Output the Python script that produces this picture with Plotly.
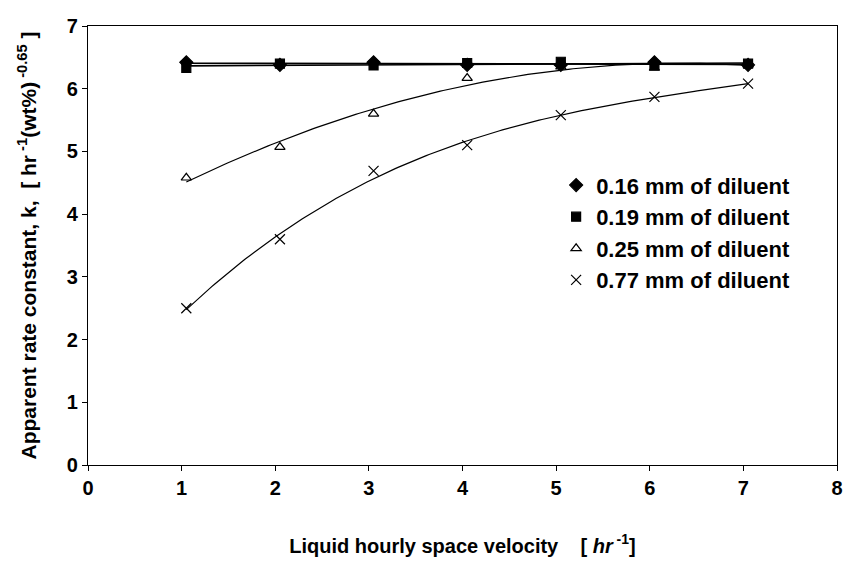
import numpy as np
import plotly.graph_objects as go

lhsv = [1.05, 2.05, 3.05, 4.05, 5.05, 6.05, 7.05]
k_016 = [6.42, 6.38, 6.42, 6.38, 6.38, 6.42, 6.38]
k_019 = [6.33, 6.40, 6.37, 6.41, 6.43, 6.37, 6.40]
k_025 = [4.58, 5.07, 5.60, 6.17, 6.35, 6.33, 6.38]
k_077 = [2.50, 3.60, 4.69, 5.10, 5.58, 5.87, 6.08]

series = [
    ("0.16 mm of diluent", k_016, "diamond", 10, 1),
    ("0.19 mm of diluent", k_019, "square", 9, 1),
    ("0.25 mm of diluent", k_025, "triangle-up-open", 9, 2),
    ("0.77 mm of diluent", k_077, "x-thin-open", 10, 3),
]

FONT = "Liberation Sans, Arial, sans-serif"
fig = go.Figure()

xs = np.linspace(min(lhsv), max(lhsv), 200)
for name, ys, sym, size, deg in series:
    coef = np.polyfit(lhsv, ys, deg)
    fig.add_trace(go.Scatter(x=xs, y=np.polyval(coef, xs), mode="lines",
                             line=dict(color="black", width=1.6 if deg == 1 else 1.2),
                             showlegend=False, hoverinfo="skip"))

for name, ys, sym, size, deg in series:
    fig.add_trace(go.Scatter(x=lhsv, y=ys, mode="markers", name="<b>" + name + "</b>",
                             marker=dict(symbol=sym, size=size, color="black",
                                         line=dict(color="black", width=1.2))))

# page body has an 8px margin, so the figure is sized to fit inside it without overflow
fig.update_layout(
    width=835, height=556,
    margin=dict(l=80, r=6, t=18, b=99),
    paper_bgcolor="white", plot_bgcolor="white",
    font=dict(family=FONT, size=19, color="black"),
    legend=dict(x=0.625, y=0.685, xanchor="left", yanchor="top",
                bgcolor="rgba(0,0,0,0)", font=dict(size=22, family=FONT),
                tracegroupgap=0, itemwidth=30),
    showlegend=True,
)
fig.update_xaxes(range=[0, 8], dtick=1, tick0=0, showgrid=False, zeroline=False,
                 showline=True, linecolor="black", linewidth=1.2, mirror=True,
                 ticks="outside", ticklen=5, tickcolor="black", automargin=False,
                 tickfont=dict(size=20, family=FONT),
                 tickprefix="<b>", ticksuffix="</b>",
                 title=dict(text="<b>Liquid hourly space velocity    [ <i>hr</i><sup> -1</sup>]</b>",
                            standoff=40, font=dict(size=20, family=FONT)))
fig.update_yaxes(range=[0, 7], dtick=1, tick0=0, showgrid=False, zeroline=False,
                 showline=True, linecolor="black", linewidth=1.2, mirror=True,
                 ticks="outside", ticklen=5, tickcolor="black", automargin=False,
                 tickfont=dict(size=20, family=FONT),
                 tickprefix="<b>", ticksuffix="</b>",
                 title=dict(text="<b>Apparent rate constant, k,  [ hr<sup> -1</sup>(wt%)<sup> -0.65</sup> ]</b>",
                            standoff=24, font=dict(size=21, family=FONT)))

fig.write_html("out.html")
